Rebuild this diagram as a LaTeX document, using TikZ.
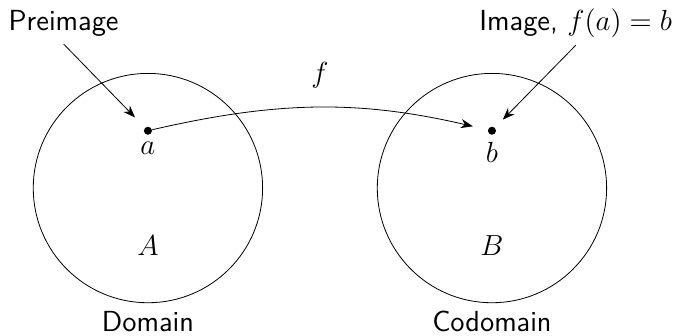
\documentclass[tikz,border=0pt]{standalone}
\usepackage{amsmath,amssymb}
\usepackage{tikz}
\usetikzlibrary{positioning,arrows.meta}

\begin{document}
\begin{tikzpicture}[every node/.style={font=\Large},
        setcircle/.style={draw, circle, minimum size=4cm, inner sep=0pt},
        elemdot/.style={circle, fill=black, inner sep=0pt, minimum size=4pt},
        caption/.style={font=\Large\sffamily, anchor=base},
        arrow/.style={-{Stealth[length=6pt,width=4.5pt]}}]

        \useasboundingbox (-2.58,-2.57) rectangle (9.21,3.28);

        \node[setcircle] (domA) at (0,0) {};
        \node[setcircle] (codB) at (6,0) {};
        \node at (0,-1) {$A$};
        \node at (6,-1) {$B$};

        \node[elemdot] (a) at (0,1) {};
        \node[elemdot] (b) at (6,1) {};
        \node[below=0pt of a] {$a$};
        \node[below=0pt of b] {$b$};

        \node[caption] (dom) at (0,-2.5) {Domain};
        \node[caption] (cod) at (6,-2.5) {Codomain};
        \node[caption] (pre) at (-1.47,2.74) {Preimage};
        \node[caption] (img) at (7.46,2.74) {Image, $f(a)=b$};

        \draw[arrow, shorten >=7.5pt] (a) to[bend left=13] node[above=6pt] {$f$} (b);
        \draw[arrow, shorten >=7pt] (pre.south) -- (a);
        \draw[arrow, shorten >=5.5pt] (img.south) -- (b);
      \end{tikzpicture}
\end{document}
